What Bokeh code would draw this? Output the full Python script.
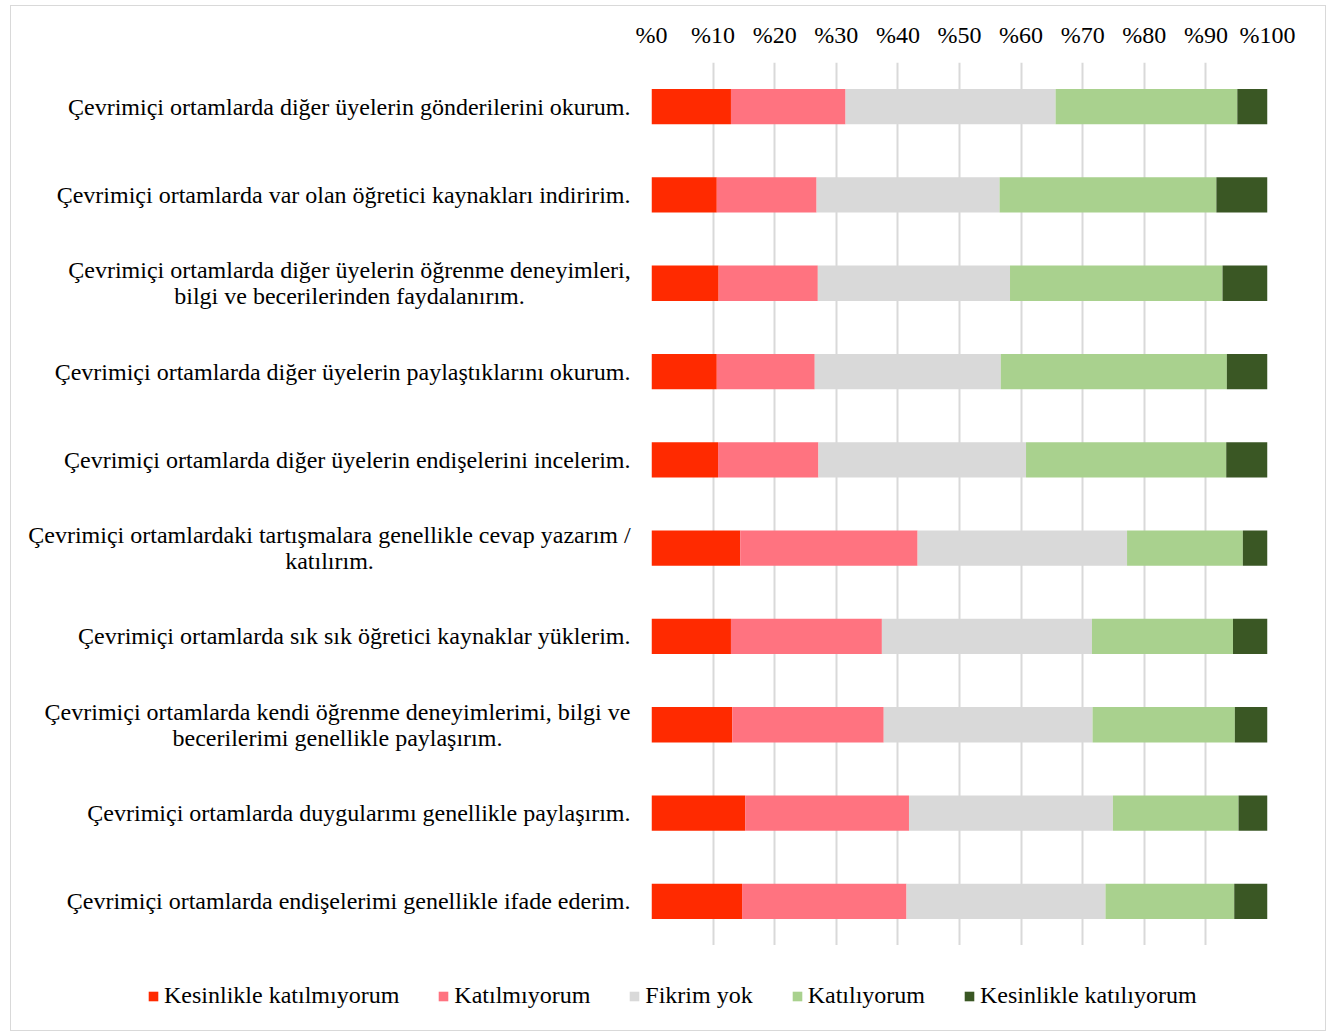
from bokeh.plotting import figure
from bokeh.layouts import column, row
from bokeh.models import FactorRange, FixedTicker, Legend, LegendItem, ColumnDataSource, Range1d
from bokeh.core.properties import value
from bokeh.embed import file_html
from bokeh.resources import INLINE

labels = [
    "Çevrimiçi ortamlarda diğer üyelerin gönderilerini okurum.",
    "Çevrimiçi ortamlarda var olan öğretici kaynakları indiririm.",
    "Çevrimiçi ortamlarda diğer üyelerin öğrenme deneyimleri,\nbilgi ve becerilerinden faydalanırım.",
    "Çevrimiçi ortamlarda diğer üyelerin paylaştıklarını okurum.",
    "Çevrimiçi ortamlarda diğer üyelerin endişelerini incelerim.",
    "Çevrimiçi ortamlardaki tartışmalara genellikle cevap yazarım /\nkatılırım.",
    "Çevrimiçi ortamlarda sık sık öğretici kaynaklar yüklerim.",
    "Çevrimiçi ortamlarda kendi öğrenme deneyimlerimi, bilgi ve\nbecerilerimi genellikle paylaşırım.",
    "Çevrimiçi ortamlarda duygularımı genellikle paylaşırım.",
    "Çevrimiçi ortamlarda endişelerimi genellikle ifade ederim.",
]

series_names = ["Kesinlikle katılmıyorum", "Katılmıyorum", "Fikrim yok", "Katılıyorum", "Kesinlikle katılıyorum"]

kesinlikle_katilmiyorum = [12.9, 10.6, 10.9, 10.6, 10.8, 14.4, 12.9, 13.1, 15.2, 14.7]
katilmiyorum = [18.6, 16.2, 16.1, 15.9, 16.3, 28.8, 24.5, 24.6, 26.6, 26.7]
fikrim_yok = [34.1, 29.7, 31.2, 30.2, 33.7, 34.0, 34.1, 33.9, 33.1, 32.3]
katiliyorum = [29.5, 35.2, 34.5, 36.7, 32.5, 18.8, 22.9, 23.1, 20.4, 20.9]
kesinlikle_katiliyorum = [4.9, 8.3, 7.3, 6.6, 6.7, 4.0, 5.6, 5.3, 4.7, 5.4]

tick_values = [0, 10, 20, 30, 40, 50, 60, 70, 80, 90, 100]
tick_labels = ["%0", "%10", "%20", "%30", "%40", "%50", "%60", "%70", "%80", "%90", "%100"]

colors = ["#FF2A00", "#FF7380", "#D9D9D9", "#A9D18E", "#3A5724"]
keys = ["s1", "s2", "s3", "s4", "s5"]

source = ColumnDataSource(dict(
    y=labels,
    s1=kesinlikle_katilmiyorum,
    s2=katilmiyorum,
    s3=fikrim_yok,
    s4=katiliyorum,
    s5=kesinlikle_katiliyorum,
))

FONT = "Liberation Serif"
FS = "24px"
TOP = 56
MAIN_H = 939
LEFT_W = 622
GAP = 18

y_range = FactorRange(factors=list(reversed(labels)))

# ---- main bar chart ----
p = figure(
    width=1314 - LEFT_W, height=MAIN_H,
    y_range=y_range, x_range=(0, 100),
    output_backend="svg", toolbar_location=None,
    x_axis_location="above", y_axis_type=None,
    min_border_left=GAP, min_border_right=58, min_border_top=TOP, min_border_bottom=0,
)
p.frame_align = False

renderers = p.hbar_stack(keys, y="y", height=0.4, color=colors, source=source, line_color=None)

p.xaxis.ticker = FixedTicker(ticks=tick_values)
p.xaxis.major_label_overrides = {v: l for v, l in zip(tick_values, tick_labels)}
p.xaxis.major_label_text_font = FONT
p.xaxis.major_label_text_font_size = FS
p.xaxis.major_label_text_color = "#000000"
p.xaxis.axis_line_color = None
p.xaxis.major_tick_line_color = None
p.xaxis.minor_tick_line_color = None
p.xaxis.major_label_standoff = 9

p.xgrid.grid_line_color = "#D9D9D9"
p.xgrid.grid_line_width = 2
p.ygrid.grid_line_color = None
p.outline_line_color = None

# ---- category labels (left strip sharing the y range) ----
pl = figure(
    width=LEFT_W, height=MAIN_H,
    y_range=y_range, x_range=Range1d(0, LEFT_W),
    output_backend="svg", toolbar_location=None,
    x_axis_type=None, y_axis_type=None,
    min_border_left=0, min_border_right=0, min_border_top=TOP, min_border_bottom=0,
)
pl.frame_align = False
pl.grid.visible = False
pl.outline_line_color = None

label_right = 619
multi_centre = {2: 338, 5: 318, 7: 326}
line_gap = 26

single = dict(x=[], y=[], text=[])
multi = dict(x=[], y=[], text=[], dy=[])
for i, lab in enumerate(labels):
    lines = lab.split("\n")
    if len(lines) == 1:
        single["x"].append(label_right)
        single["y"].append(lab)
        single["text"].append(lab)
    else:
        k = len(lines)
        for j, line in enumerate(lines):
            multi["x"].append(multi_centre[i])
            multi["y"].append(lab)
            multi["text"].append(line)
            multi["dy"].append((j - (k - 1) / 2) * line_gap)

pl.text(x="x", y="y", text="text", source=ColumnDataSource(single),
        text_align="right", text_baseline="middle",
        text_font=value(FONT), text_font_size=FS, text_color="#000000")
pl.text(x="x", y="y", text="text", y_offset="dy", source=ColumnDataSource(multi),
        text_align="center", text_baseline="middle",
        text_font=value(FONT), text_font_size=FS, text_color="#000000")

# ---- legend strip below the chart ----
p2 = figure(
    width=1314, height=85,
    y_range=FactorRange(factors=list(reversed(labels))), x_range=(0, 100),
    output_backend="svg", toolbar_location=None,
    x_axis_type=None, y_axis_type=None,
    min_border_left=0, min_border_right=0, min_border_top=0, min_border_bottom=0,
)
p2.frame_align = False
p2.grid.visible = False
p2.outline_line_color = None
legend_renderers = p2.hbar_stack(keys, y="y", height=0.4, color=colors, source=source, line_color=None)
for r in legend_renderers:
    r.visible = False

legend = Legend(
    items=[LegendItem(label=nm, renderers=[r]) for nm, r in zip(series_names, legend_renderers)],
    orientation="horizontal", location=(136, 21),
    glyph_width=12, glyph_height=12, label_standoff=5, spacing=38,
    label_text_font=FONT, label_text_font_size=FS, label_text_color="#000000",
    border_line_color=None, background_fill_alpha=0, margin=0, padding=0,
)
p2.add_layout(legend, "center")

layout = column(row(pl, p, spacing=0), p2, spacing=0,
                styles={"border": "1px solid #D9D9D9", "margin-left": "10px", "margin-top": "5px"})

open("out.html", "w").write(file_html(layout, INLINE))
